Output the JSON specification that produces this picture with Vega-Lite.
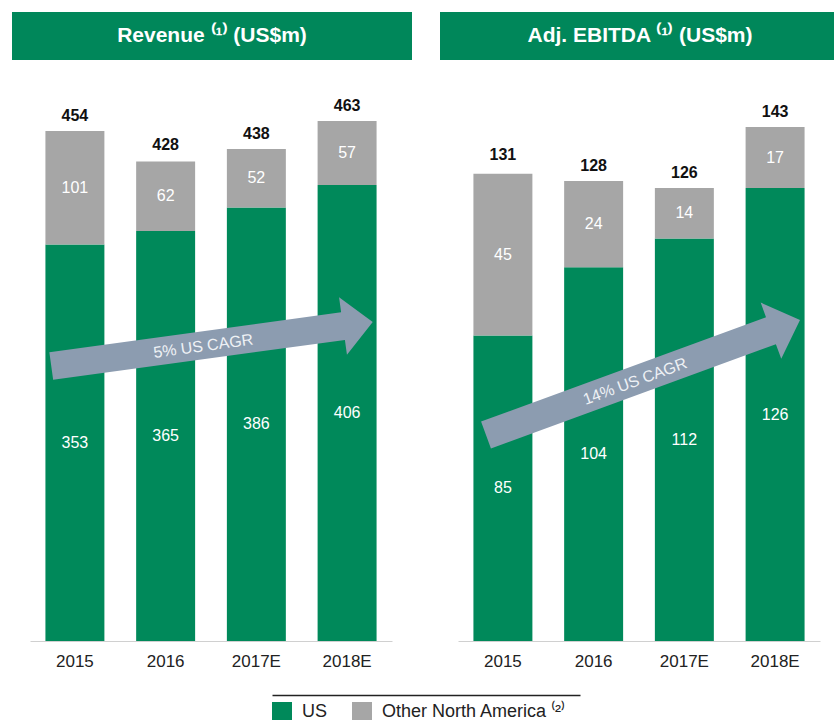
{
  "$schema": "https://vega.github.io/schema/vega-lite/v6.json",
  "padding": {"left": 12, "top": 12, "right": 0, "bottom": 0},
  "background": "white",
  "config": {
    "view": {"stroke": null},
    "font": "Liberation Sans",
    "text": {"font": "Liberation Sans"},
    "axis": {"labelFont": "Liberation Sans"},
    "legend": {"labelFont": "Liberation Sans"}
  },
  "datasets": {
    "rev": [
      {"year": "2015", "series": "US", "value": 353},
      {"year": "2015", "series": "Other North America", "value": 101},
      {"year": "2016", "series": "US", "value": 365},
      {"year": "2016", "series": "Other North America", "value": 62},
      {"year": "2017E", "series": "US", "value": 386},
      {"year": "2017E", "series": "Other North America", "value": 52},
      {"year": "2018E", "series": "US", "value": 406},
      {"year": "2018E", "series": "Other North America", "value": 57}
    ],
    "rev_tot": [
      {"year": "2015", "total": 454},
      {"year": "2016", "total": 428},
      {"year": "2017E", "total": 438},
      {"year": "2018E", "total": 463}
    ],
    "ebitda": [
      {"year": "2015", "series": "US", "value": 85},
      {"year": "2015", "series": "Other North America", "value": 45},
      {"year": "2016", "series": "US", "value": 104},
      {"year": "2016", "series": "Other North America", "value": 24},
      {"year": "2017E", "series": "US", "value": 112},
      {"year": "2017E", "series": "Other North America", "value": 14},
      {"year": "2018E", "series": "US", "value": 126},
      {"year": "2018E", "series": "Other North America", "value": 17}
    ],
    "ebitda_tot": [
      {"year": "2015", "total": 131},
      {"year": "2016", "total": 128},
      {"year": "2017E", "total": 126},
      {"year": "2018E", "total": 143}
    ],
    "headers": [
      {"panel": "Revenue", "title": "Revenue ⁽¹⁾ (US$m)"},
      {"panel": "EBITDA", "title": "Adj. EBITDA ⁽¹⁾ (US$m)"}
    ],
    "arrows": [
      {"panel": "Revenue", "label": "5% US CAGR"},
      {"panel": "EBITDA", "label": "14% US CAGR"}
    ]
  },
  "vconcat": [
    {
      "hconcat": [
        {
          "width": 400,
          "height": 629,
          "layer": [
            {
              "data": {"name": "rev"},
              "transform": [{"stack": "value", "groupby": ["year"], "sort": [{"field": "series", "order": "descending"}], "as": ["v0", "v1"]}],
              "mark": {"type": "bar"},
              "encoding": {
                "x": {"field": "year", "type": "nominal", "scale": {"domain": ["2015", "2016", "2017E", "2018E"], "range": [18, 380], "paddingInner": 0.35, "paddingOuter": 0.17},
                  "axis": {"title": null, "labelAngle": 0, "ticks": false, "tickSize": 0, "domainColor": "#d0d0d0", "labelFontSize": 17, "labelColor": "#222222", "labelPadding": 12}},
                "y": {"field": "v0", "type": "quantitative", "scale": {"domain": [0, 560], "nice": false}, "axis": null},
                "y2": {"field": "v1"},
                "color": {"field": "series", "type": "nominal",
                  "scale": {"domain": ["US", "Other North America"], "range": ["#00895a", "#a6a6a6"]},
                  "legend": {"orient": "none", "legendX": 260, "legendY": 690, "direction": "horizontal", "title": null, "symbolType": "square", "symbolSize": 400, "symbolStrokeWidth": 0, "symbolOpacity": 1, "labelFontSize": 18, "labelColor": "#222222", "labelOffset": 10, "columnPadding": 24, "labelLimit": 400,
                    "labelExpr": "datum.label == 'Other North America' ? 'Other North America ⁽²⁾' : datum.label"}}
              }
            },
            {
              "data": {"name": "arrows"},
              "transform": [{"filter": "datum.panel == 'Revenue'"}],
              "mark": {"type": "point", "shape": "M -1 -0.086 L 0.815 -0.086 L 0.815 -0.179 L 1 0 L 0.815 0.179 L 0.815 0.086 L -1 0.086 Z", "size": 105300, "angle": 352.2, "filled": true, "color": "#8c9cb0", "opacity": 1, "strokeWidth": 0},
              "encoding": {"y": {"datum": 264.4, "type": "quantitative", "scale": {"domain": [0, 560], "nice": false}, "axis": null}}
            },
            {
              "data": {"name": "arrows"},
              "transform": [{"filter": "datum.panel == 'Revenue'"}],
              "mark": {"type": "text", "angle": 352.2, "dx": -9, "dy": 1, "fontSize": 16, "color": "#eef1f5", "align": "center", "baseline": "middle"},
              "encoding": {"y": {"datum": 264.4, "type": "quantitative", "scale": {"domain": [0, 560], "nice": false}, "axis": null}, "text": {"field": "label"}}
            },
            {
              "data": {"name": "rev"},
              "transform": [
                {"stack": "value", "groupby": ["year"], "sort": [{"field": "series", "order": "descending"}], "as": ["v0", "v1"]},
                {"fold": ["v0", "v1"], "as": ["edge", "pos"]},
                {"aggregate": [{"op": "mean", "field": "pos", "as": "mid"}], "groupby": ["year", "series", "value"]}
              ],
              "mark": {"type": "text", "color": "#ffffff", "fontSize": 16, "baseline": "middle"},
              "encoding": {
                "x": {"field": "year", "type": "nominal", "scale": {"domain": ["2015", "2016", "2017E", "2018E"]}},
                "y": {"field": "mid", "type": "quantitative", "scale": {"domain": [0, 560], "nice": false}, "axis": null},
                "text": {"field": "value"}
              }
            },
            {
              "data": {"name": "rev_tot"},
              "mark": {"type": "text", "color": "#111111", "fontSize": 16, "fontWeight": "bold", "baseline": "alphabetic", "dy": -10},
              "encoding": {
                "x": {"field": "year", "type": "nominal", "scale": {"domain": ["2015", "2016", "2017E", "2018E"]}},
                "y": {"field": "total", "type": "quantitative", "scale": {"domain": [0, 560], "nice": false}, "axis": null},
                "text": {"field": "total"}
              }
            },
            {
              "data": {"name": "headers"},
              "transform": [{"filter": "datum.panel == 'Revenue'"}],
              "mark": {"type": "rect", "color": "#00875a"},
              "encoding": {"y": {"datum": 517.3, "type": "quantitative", "scale": {"domain": [0, 560], "nice": false}, "axis": null}, "y2": {"datum": 560}}
            },
            {
              "data": {"name": "headers"},
              "transform": [{"filter": "datum.panel == 'Revenue'"}],
              "mark": {"type": "text", "color": "#ffffff", "fontSize": 21, "fontWeight": "bold", "baseline": "middle", "align": "center"},
              "encoding": {"y": {"datum": 538.65, "type": "quantitative", "scale": {"domain": [0, 560], "nice": false}, "axis": null}, "text": {"field": "title"}}
            }
          ]
        },
        {
          "width": 400,
          "height": 629,
          "layer": [
            {
              "data": {"name": "ebitda"},
              "transform": [{"stack": "value", "groupby": ["year"], "sort": [{"field": "series", "order": "descending"}], "as": ["v0", "v1"]}],
              "mark": {"type": "bar"},
              "encoding": {
                "x": {"field": "year", "type": "nominal", "scale": {"domain": ["2015", "2016", "2017E", "2018E"], "range": [18, 380], "paddingInner": 0.35, "paddingOuter": 0.17},
                  "axis": {"title": null, "labelAngle": 0, "ticks": false, "tickSize": 0, "domainColor": "#d0d0d0", "labelFontSize": 17, "labelColor": "#222222", "labelPadding": 12}},
                "y": {"field": "v0", "type": "quantitative", "scale": {"domain": [0, 175], "nice": false}, "axis": null},
                "y2": {"field": "v1"},
                "color": {"field": "series", "type": "nominal",
                  "scale": {"domain": ["US", "Other North America"], "range": ["#00895a", "#a6a6a6"]},
                  "legend": {"orient": "none", "legendX": 260, "legendY": 690, "direction": "horizontal", "title": null, "symbolType": "square", "symbolSize": 400, "symbolStrokeWidth": 0, "symbolOpacity": 1, "labelFontSize": 18, "labelColor": "#222222", "labelOffset": 10, "columnPadding": 24, "labelLimit": 400,
                    "labelExpr": "datum.label == 'Other North America' ? 'Other North America ⁽²⁾' : datum.label"}}
              }
            },
            {
              "data": {"name": "arrows"},
              "transform": [{"filter": "datum.panel == 'EBITDA'"}],
              "mark": {"type": "point", "shape": "M -1 -0.086 L 0.815 -0.086 L 0.815 -0.179 L 1 0 L 0.815 0.179 L 0.815 0.086 L -1 0.086 Z", "size": 111800, "angle": 339.9, "xOffset": 3, "filled": true, "color": "#8c9cb0", "opacity": 1, "strokeWidth": 0},
              "encoding": {"y": {"datum": 73.3, "type": "quantitative", "scale": {"domain": [0, 175], "nice": false}, "axis": null}}
            },
            {
              "data": {"name": "arrows"},
              "transform": [{"filter": "datum.panel == 'EBITDA'"}],
              "mark": {"type": "text", "angle": 339.9, "dx": -6, "dy": 2, "fontSize": 16, "color": "#eef1f5", "align": "center", "baseline": "middle"},
              "encoding": {"y": {"datum": 73.3, "type": "quantitative", "scale": {"domain": [0, 175], "nice": false}, "axis": null}, "text": {"field": "label"}}
            },
            {
              "data": {"name": "ebitda"},
              "transform": [
                {"stack": "value", "groupby": ["year"], "sort": [{"field": "series", "order": "descending"}], "as": ["v0", "v1"]},
                {"fold": ["v0", "v1"], "as": ["edge", "pos"]},
                {"aggregate": [{"op": "mean", "field": "pos", "as": "mid"}], "groupby": ["year", "series", "value"]}
              ],
              "mark": {"type": "text", "color": "#ffffff", "fontSize": 16, "baseline": "middle"},
              "encoding": {
                "x": {"field": "year", "type": "nominal", "scale": {"domain": ["2015", "2016", "2017E", "2018E"]}},
                "y": {"field": "mid", "type": "quantitative", "scale": {"domain": [0, 175], "nice": false}, "axis": null},
                "text": {"field": "value"}
              }
            },
            {
              "data": {"name": "ebitda_tot"},
              "mark": {"type": "text", "color": "#111111", "fontSize": 16, "fontWeight": "bold", "baseline": "alphabetic", "dy": -10},
              "encoding": {
                "x": {"field": "year", "type": "nominal", "scale": {"domain": ["2015", "2016", "2017E", "2018E"]}},
                "y": {"field": "total", "type": "quantitative", "scale": {"domain": [0, 175], "nice": false}, "axis": null},
                "text": {"field": "total"}
              }
            },
            {
              "data": {"name": "headers"},
              "transform": [{"filter": "datum.panel == 'EBITDA'"}],
              "mark": {"type": "rect", "color": "#00875a"},
              "encoding": {"y": {"datum": 161.66, "type": "quantitative", "scale": {"domain": [0, 175], "nice": false}, "axis": null}, "y2": {"datum": 175}}
            },
            {
              "data": {"name": "headers"},
              "transform": [{"filter": "datum.panel == 'EBITDA'"}],
              "mark": {"type": "text", "color": "#ffffff", "fontSize": 21, "fontWeight": "bold", "baseline": "middle", "align": "center"},
              "encoding": {"y": {"datum": 168.33, "type": "quantitative", "scale": {"domain": [0, 175], "nice": false}, "axis": null}, "text": {"field": "title"}}
            }
          ]
        }
      ],
      "spacing": 28,
      "resolve": {"scale": {"x": "independent", "y": "independent", "color": "shared"}, "legend": {"color": "shared"}}
    },
    {
      "width": 308,
      "height": 1,
      "data": {"values": [{}]},
      "mark": {"type": "rule", "opacity": 0},
      "encoding": {
        "x": {"datum": 0, "type": "quantitative", "scale": {"domain": [0, 1]},
          "axis": {"orient": "top", "domain": true, "domainColor": "#222222", "domainWidth": 1.5, "ticks": false, "labels": false, "grid": false, "title": null}}
      }
    }
  ],
  "spacing": 26,
  "center": true
}
